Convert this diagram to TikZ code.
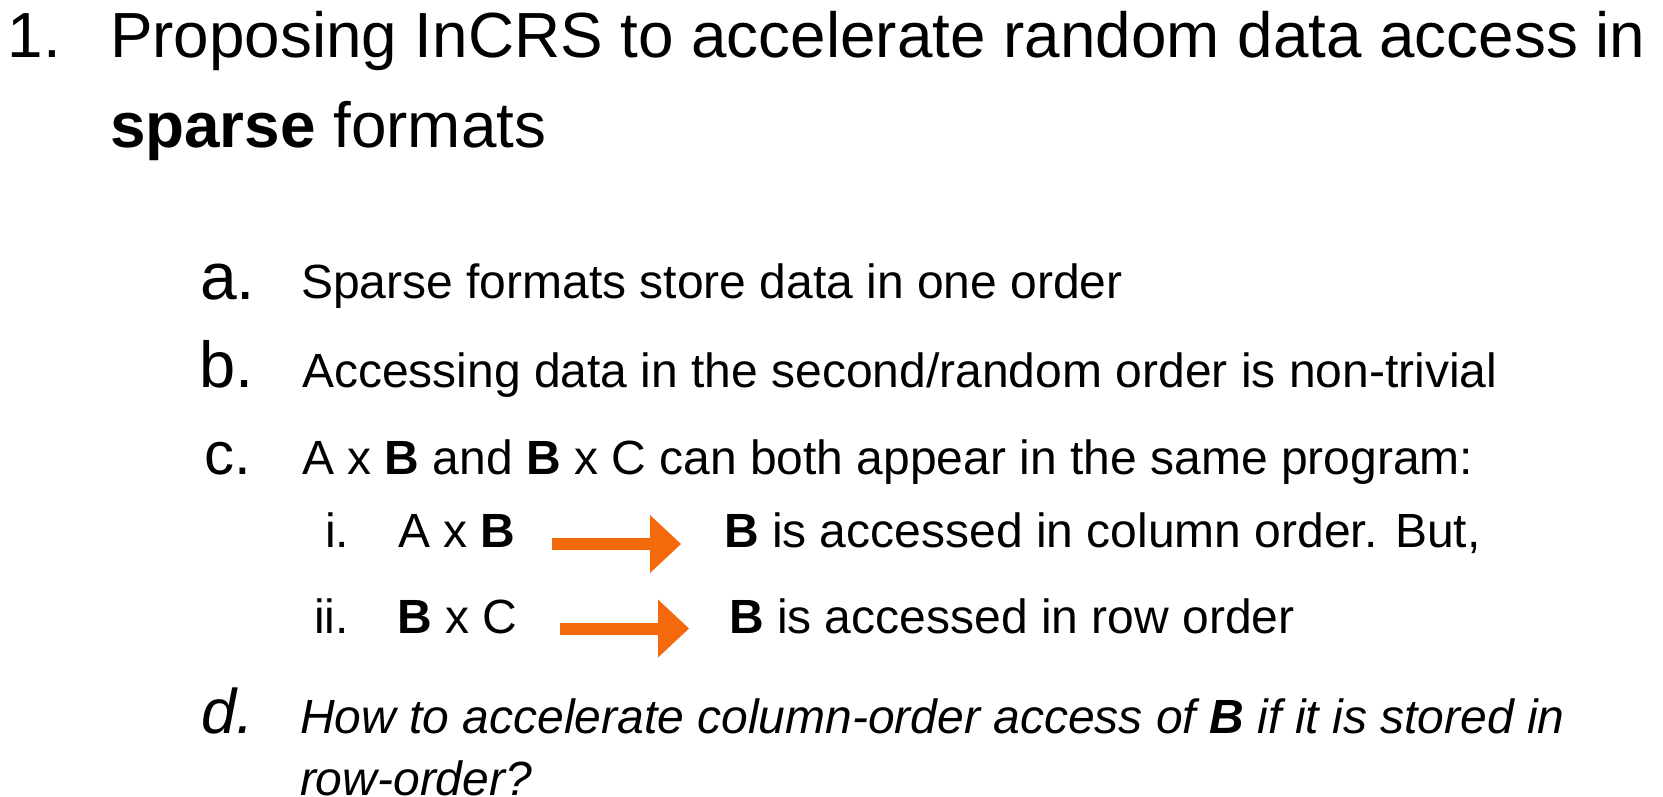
\documentclass[tikz,border=0pt]{standalone}
\usepackage{fontspec}
\setmainfont{Liberation Sans}
\usetikzlibrary{arrows.meta}
\definecolor{arroworange}{HTML}{F4690B}
\tikzset{
  txt/.style={anchor=base west, inner sep=0pt, outer sep=0pt, text=black},
  body/.style={txt, font=\fontsize{48}{55}\selectfont},
  titlefont/.style={txt, font=\fontsize{63.8}{72}\selectfont},
  bigarrow/.style={draw=arroworange, line width=12pt, line cap=butt,
    -{Triangle[length=31pt, width=58pt, line width=0pt, fill=arroworange]}}
}
\begin{document}
\begin{tikzpicture}[x=1pt, y=-1pt]
\useasboundingbox (0,0) rectangle (1663,796);
% title
\node[titlefont] (t1num) at (8,57) {1.};
\node[titlefont] (t1) at (110,57) {Proposing InCRS to accelerate random data access in};
\node[titlefont] (t2) at (110,147) {\textbf{sparse} formats};
% items
\node[txt, font=\fontsize{66}{72}\selectfont] (la) at (200,299) {a.};
\node[body] (ta) at (301,298) {Sparse formats store data in one order};
\node[txt, font=\fontsize{65}{72}\selectfont] (lb) at (199,387) {b.};
\node[body] (tb) at (302,387) {Accessing data in the second/random order is non-trivial};
\node[txt, font=\fontsize{60}{66}\selectfont] (lc) at (204,474) {c.};
\node[body] (tc) at (302,474) {A x \textbf{B} and \textbf{B} x C can both appear in the same program:};
% sub items
\node[body] (li) at (325,547) {i.};
\node[body] (ti) at (398,547) {A x \textbf{B}};
\node[body] (ri) at (724,547) {\textbf{B} is accessed in column order. But,};
\node[body] (lii) at (314,633) {ii.};
\node[body] (tii) at (397,633) {\textbf{B} x C};
\node[body] (rii) at (729,633) {\textbf{B} is accessed in row order};
\coordinate (a1s) at (552,544);
\coordinate (a1e) at (681,544);
\coordinate (a2s) at (560,628.5);
\coordinate (a2e) at (689,628.5);
\draw[bigarrow] (a1s) -- (a1e);
\draw[bigarrow] (a2s) -- (a2e);
% d
\node[txt, font=\fontsize{63}{72}\selectfont\itshape] (ld) at (201,733) {d.};
\node[body, font=\fontsize{48}{55}\selectfont\itshape] (td) at (300,733) {How to accelerate column-order access of \textbf{B} if it is stored in};
\node[body, font=\fontsize{48}{55}\selectfont\itshape] (td2) at (300,795) {row-order?};
\end{tikzpicture}
\end{document}
